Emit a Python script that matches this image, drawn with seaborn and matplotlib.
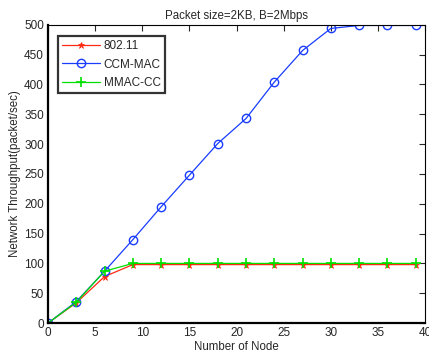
import matplotlib
matplotlib.use("Agg")
import matplotlib.pyplot as plt
import seaborn as sns
import pandas as pd

nodes = [0, 3, 6, 9, 12, 15, 18, 21, 24, 27, 30, 33, 36, 39]
s80211 = [0, 34, 78, 98, 98, 98, 98, 98, 98, 98, 98, 98, 98, 98]
ccm_mac = [0, 36, 87, 140, 195, 248, 301, 343, 404, 457, 494, 499, 499, 499]
mmac_cc = [0, 35, 87, 100, 100, 100, 100, 100, 100, 100, 100, 100, 100, 100]
series_names = ["802.11", "CCM-MAC", "MMAC-CC"]
xticks = [0, 5, 10, 15, 20, 25, 30, 35, 40]
yticks = [0, 50, 100, 150, 200, 250, 300, 350, 400, 450, 500]

sns.set_style("white")
plt.rcParams['font.family'] = ['Liberation Sans', 'DejaVu Sans']

df = pd.DataFrame({
    "Nodes": nodes * 3,
    "Throughput": s80211 + ccm_mac + mmac_cc,
    "Series": [series_names[0]] * len(nodes) + [series_names[1]] * len(nodes) + [series_names[2]] * len(nodes),
})

fig = plt.figure(figsize=(4.29, 3.55), dpi=100)
ax = fig.add_axes([0.112, 0.090, 0.879, 0.840])

palette = {"802.11": "#ff2a10", "CCM-MAC": "#1a3cff", "MMAC-CC": "#00e000"}
for name in series_names:
    sub = df[df["Series"] == name]
    c = palette[name]
    if name == "CCM-MAC":
        mk = dict(marker="o", markersize=6, markerfacecolor="none", markeredgecolor=c, markeredgewidth=1.0)
    elif name == "802.11":
        mk = dict(marker="*", markersize=5, markerfacecolor=c, markeredgecolor=c, markeredgewidth=0.5)
    else:
        mk = dict(marker="+", markersize=7, markerfacecolor=c, markeredgecolor=c, markeredgewidth=1.2)
    sns.lineplot(data=sub, x="Nodes", y="Throughput", ax=ax, color=c,
                 linewidth=0.9, linestyle="-", label=name, **mk)

ax.set_xlim(0, 40)
ax.set_ylim(0, 500)
ax.set_xticks(xticks)
ax.set_yticks(yticks)
ax.tick_params(direction="in", top=True, right=True, length=4, width=0.8, labelsize=8.5, pad=3)
for s in ["bottom", "left"]:
    ax.spines[s].set_linewidth(1.6)
for s in ["top", "right"]:
    ax.spines[s].set_linewidth(0.8)
for s in ax.spines.values():
    s.set_color("black")
ax.set_xlabel("Number of Node", fontsize=8.3, labelpad=1)
ax.set_ylabel("Network Throughput(packet/sec)", fontsize=8.3, labelpad=2)
ax.set_title("Packet size=2KB, B=2Mbps", fontsize=8.3, pad=4)
ax.grid(False)

leg = ax.legend(loc="upper left", bbox_to_anchor=(0.027, 0.963), fontsize=8.5, frameon=True,
                fancybox=False, borderpad=0.35, labelspacing=0.55, handlelength=3.2,
                handletextpad=0.3, borderaxespad=0)
leg.get_frame().set_edgecolor("black")
leg.get_frame().set_linewidth(1.6)

fig.savefig("out.png", dpi=100)
